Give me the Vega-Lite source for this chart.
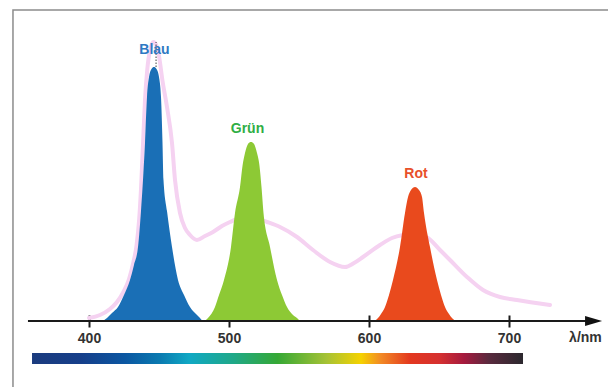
{
  "$schema": "https://vega.github.io/schema/vega-lite/v6.json",
  "width": 608,
  "height": 387,
  "padding": 0,
  "autosize": {"type": "none"},
  "background": "white",
  "config": {"view": {"stroke": null}},
  "encoding": {
    "x": {"field": "nm", "type": "quantitative", "scale": {"domain": [336.43, 770.71], "nice": false, "zero": false},
      "axis": {"values": [400, 500, 600, 700], "domain": false, "grid": false, "tickSize": 12, "tickWidth": 2, "tickColor": "#1a1a1a", "offset": -72, "labelFont": "Liberation Sans", "labelFontWeight": "bold", "labelFontSize": 14, "labelColor": "#333333", "labelPadding": 4, "title": null, "labelFlush": false}},
    "y": {"field": "v", "type": "quantitative", "scale": {"domain": [-66, 321], "nice": false, "zero": false}, "axis": null}
  },
  "layer": [
    {
      "data": {"values": [{"nm": 345.7, "nm2": 820, "v": 311, "v2": -120}]},
      "mark": {"type": "rect", "fill": "transparent", "stroke": "#8c8c8c", "strokeWidth": 1.5},
      "encoding": {"x2": {"field": "nm2"}, "y2": {"field": "v2"}}
    },
    {
      "data": {"values": [
        {"nm": 400.0, "v": 3}, {"nm": 407.86, "v": 6}, {"nm": 415.0, "v": 12}, {"nm": 420.0, "v": 19}, {"nm": 424.6, "v": 29},
        {"nm": 428.6, "v": 42}, {"nm": 431.6, "v": 58}, {"nm": 434.0, "v": 76}, {"nm": 435.8, "v": 101}, {"nm": 437.1, "v": 131},
        {"nm": 438.4, "v": 171}, {"nm": 440.0, "v": 221}, {"nm": 441.6, "v": 251}, {"nm": 443.6, "v": 271}, {"nm": 446.0, "v": 279},
        {"nm": 448.0, "v": 276}, {"nm": 450.0, "v": 265}, {"nm": 452.4, "v": 241}, {"nm": 455.71, "v": 214}, {"nm": 459.29, "v": 178},
        {"nm": 461.43, "v": 141}, {"nm": 465.0, "v": 108}, {"nm": 468.57, "v": 93}, {"nm": 472.14, "v": 86}, {"nm": 477.14, "v": 81},
        {"nm": 482.86, "v": 85}, {"nm": 488.57, "v": 89}, {"nm": 495.0, "v": 95}, {"nm": 500.71, "v": 99}, {"nm": 507.86, "v": 103},
        {"nm": 513.57, "v": 104}, {"nm": 520.71, "v": 102}, {"nm": 527.14, "v": 99}, {"nm": 536.43, "v": 94}, {"nm": 548.57, "v": 84},
        {"nm": 560.0, "v": 71}, {"nm": 572.14, "v": 59}, {"nm": 582.86, "v": 54}, {"nm": 589.29, "v": 58}, {"nm": 595.71, "v": 64},
        {"nm": 607.86, "v": 76}, {"nm": 616.43, "v": 83}, {"nm": 624.29, "v": 86}, {"nm": 630.71, "v": 87}, {"nm": 636.43, "v": 86},
        {"nm": 642.14, "v": 83}, {"nm": 650.71, "v": 71}, {"nm": 657.86, "v": 61}, {"nm": 670.0, "v": 44}, {"nm": 681.43, "v": 31},
        {"nm": 693.57, "v": 24}, {"nm": 705.71, "v": 21}, {"nm": 729.29, "v": 16}
      ]},
      "mark": {"type": "line", "interpolate": "monotone", "stroke": "#f5d2f1", "strokeWidth": 4, "strokeCap": "round"}
    },
    {
      "data": {"values": [
        {"s": "Blau", "nm": 410.0, "v": 0}, {"s": "Blau", "nm": 412.86, "v": 3}, {"s": "Blau", "nm": 416.43, "v": 8}, {"s": "Blau", "nm": 420.71, "v": 14},
        {"s": "Blau", "nm": 425.0, "v": 26}, {"s": "Blau", "nm": 429.29, "v": 41}, {"s": "Blau", "nm": 432.14, "v": 56}, {"s": "Blau", "nm": 435.0, "v": 74},
        {"s": "Blau", "nm": 437.14, "v": 110}, {"s": "Blau", "nm": 438.57, "v": 141}, {"s": "Blau", "nm": 440.0, "v": 178}, {"s": "Blau", "nm": 441.43, "v": 224},
        {"s": "Blau", "nm": 442.86, "v": 244}, {"s": "Blau", "nm": 444.64, "v": 252}, {"s": "Blau", "nm": 446.43, "v": 254}, {"s": "Blau", "nm": 448.21, "v": 252},
        {"s": "Blau", "nm": 450.0, "v": 244}, {"s": "Blau", "nm": 451.43, "v": 224}, {"s": "Blau", "nm": 452.5, "v": 178}, {"s": "Blau", "nm": 453.21, "v": 141},
        {"s": "Blau", "nm": 455.71, "v": 110}, {"s": "Blau", "nm": 459.29, "v": 74}, {"s": "Blau", "nm": 463.57, "v": 41}, {"s": "Blau", "nm": 467.86, "v": 26},
        {"s": "Blau", "nm": 472.14, "v": 14}, {"s": "Blau", "nm": 476.43, "v": 7}, {"s": "Blau", "nm": 479.29, "v": 3}, {"s": "Blau", "nm": 482.14, "v": 0},
        {"s": "Grün", "nm": 481.43, "v": 0}, {"s": "Grün", "nm": 485.0, "v": 3}, {"s": "Grün", "nm": 490.0, "v": 14}, {"s": "Grün", "nm": 492.86, "v": 26},
        {"s": "Grün", "nm": 496.43, "v": 41}, {"s": "Grün", "nm": 501.43, "v": 74}, {"s": "Grün", "nm": 504.29, "v": 108}, {"s": "Grün", "nm": 507.86, "v": 134},
        {"s": "Grün", "nm": 509.64, "v": 155}, {"s": "Grün", "nm": 511.43, "v": 168}, {"s": "Grün", "nm": 513.57, "v": 177}, {"s": "Grün", "nm": 515.71, "v": 179},
        {"s": "Grün", "nm": 517.86, "v": 177}, {"s": "Grün", "nm": 520.0, "v": 168}, {"s": "Grün", "nm": 521.79, "v": 155}, {"s": "Grün", "nm": 523.21, "v": 134},
        {"s": "Grün", "nm": 524.64, "v": 108}, {"s": "Grün", "nm": 529.29, "v": 74}, {"s": "Grün", "nm": 534.29, "v": 41}, {"s": "Grün", "nm": 537.86, "v": 26},
        {"s": "Grün", "nm": 541.43, "v": 14}, {"s": "Grün", "nm": 545.0, "v": 7}, {"s": "Grün", "nm": 548.57, "v": 3}, {"s": "Grün", "nm": 551.43, "v": 0},
        {"s": "Rot", "nm": 603.57, "v": 0}, {"s": "Rot", "nm": 606.43, "v": 3}, {"s": "Rot", "nm": 608.57, "v": 7}, {"s": "Rot", "nm": 611.43, "v": 14},
        {"s": "Rot", "nm": 614.29, "v": 26}, {"s": "Rot", "nm": 617.14, "v": 41}, {"s": "Rot", "nm": 622.14, "v": 74}, {"s": "Rot", "nm": 625.71, "v": 108},
        {"s": "Rot", "nm": 627.86, "v": 124}, {"s": "Rot", "nm": 630.0, "v": 131}, {"s": "Rot", "nm": 632.86, "v": 134}, {"s": "Rot", "nm": 635.71, "v": 131},
        {"s": "Rot", "nm": 637.86, "v": 124}, {"s": "Rot", "nm": 639.29, "v": 108}, {"s": "Rot", "nm": 643.57, "v": 74}, {"s": "Rot", "nm": 648.57, "v": 41},
        {"s": "Rot", "nm": 651.43, "v": 26}, {"s": "Rot", "nm": 654.29, "v": 14}, {"s": "Rot", "nm": 657.14, "v": 7}, {"s": "Rot", "nm": 659.29, "v": 3},
        {"s": "Rot", "nm": 662.14, "v": 0}
      ]},
      "mark": {"type": "area", "interpolate": "monotone"},
      "encoding": {
        "color": {"field": "s", "type": "nominal", "scale": {"domain": ["Blau", "Grün", "Rot"], "range": ["#1a6fb6", "#8dc935", "#e94a1d"]}, "legend": null},
        "detail": {"field": "s"}
      }
    },
    {
      "data": {"values": [{"nm": 447.9, "v": 254, "v2": 279}]},
      "mark": {"type": "rule", "stroke": "#444444", "strokeWidth": 1, "strokeDash": [1.5, 1.5]},
      "encoding": {"y2": {"field": "v2"}}
    },
    {
      "data": {"values": [{"nm": 356.4, "nm2": 756.4, "v": 0}]},
      "mark": {"type": "rule", "stroke": "#1a1a1a", "strokeWidth": 2},
      "encoding": {"x2": {"field": "nm2"}}
    },
    {
      "data": {"values": [{"nm": 760.4, "v": 0}]},
      "mark": {"type": "point", "shape": "M-1,-0.6L1,0L-1,0.6Z", "size": 289, "filled": true, "color": "#111111", "opacity": 1}
    },
    {
      "data": {"values": [{"nm": 754.6, "v": -17, "t": "λ/nm"}]},
      "mark": {"type": "text", "font": "Liberation Sans", "fontWeight": "bold", "fontSize": 14, "color": "#333333", "baseline": "middle", "align": "center"},
      "encoding": {"text": {"field": "t"}}
    },
    {
      "data": {"values": [{"nm": 359.3, "nm2": 710.0, "v": -32, "v2": -43}]},
      "mark": {"type": "rect", "color": {"gradient": "linear", "x1": 0, "x2": 1, "y1": 0, "y2": 0, "stops": [
        {"offset": 0, "color": "#1b3b7e"}, {"offset": 0.10, "color": "#163f8a"}, {"offset": 0.19, "color": "#0b57a2"},
        {"offset": 0.26, "color": "#0a7ab0"}, {"offset": 0.32, "color": "#10a8c4"}, {"offset": 0.41, "color": "#1fa888"},
        {"offset": 0.50, "color": "#35a835"}, {"offset": 0.60, "color": "#a6c235"}, {"offset": 0.67, "color": "#f5d200"},
        {"offset": 0.71, "color": "#f28a25"}, {"offset": 0.77, "color": "#e3381f"}, {"offset": 0.83, "color": "#d53030"},
        {"offset": 0.88, "color": "#a51a3e"}, {"offset": 0.93, "color": "#5a2a3e"}, {"offset": 1, "color": "#2b282e"}
      ]}},
      "encoding": {"x2": {"field": "nm2"}, "y2": {"field": "v2"}}
    },
    {
      "data": {"values": [
        {"s": "Blau", "nm": 446.79, "v": 271},
        {"s": "Grün", "nm": 513.21, "v": 192},
        {"s": "Rot", "nm": 633.57, "v": 147}
      ]},
      "mark": {"type": "text", "font": "Liberation Sans", "fontWeight": "bold", "fontSize": 14, "baseline": "middle", "align": "center"},
      "encoding": {
        "text": {"field": "s"},
        "color": {"field": "s", "type": "nominal", "scale": {"domain": ["Blau", "Grün", "Rot"], "range": ["#2f79c3", "#2fae45", "#e8502a"]}, "legend": null}
      }
    }
  ],
  "resolve": {"scale": {"color": "independent"}}
}
